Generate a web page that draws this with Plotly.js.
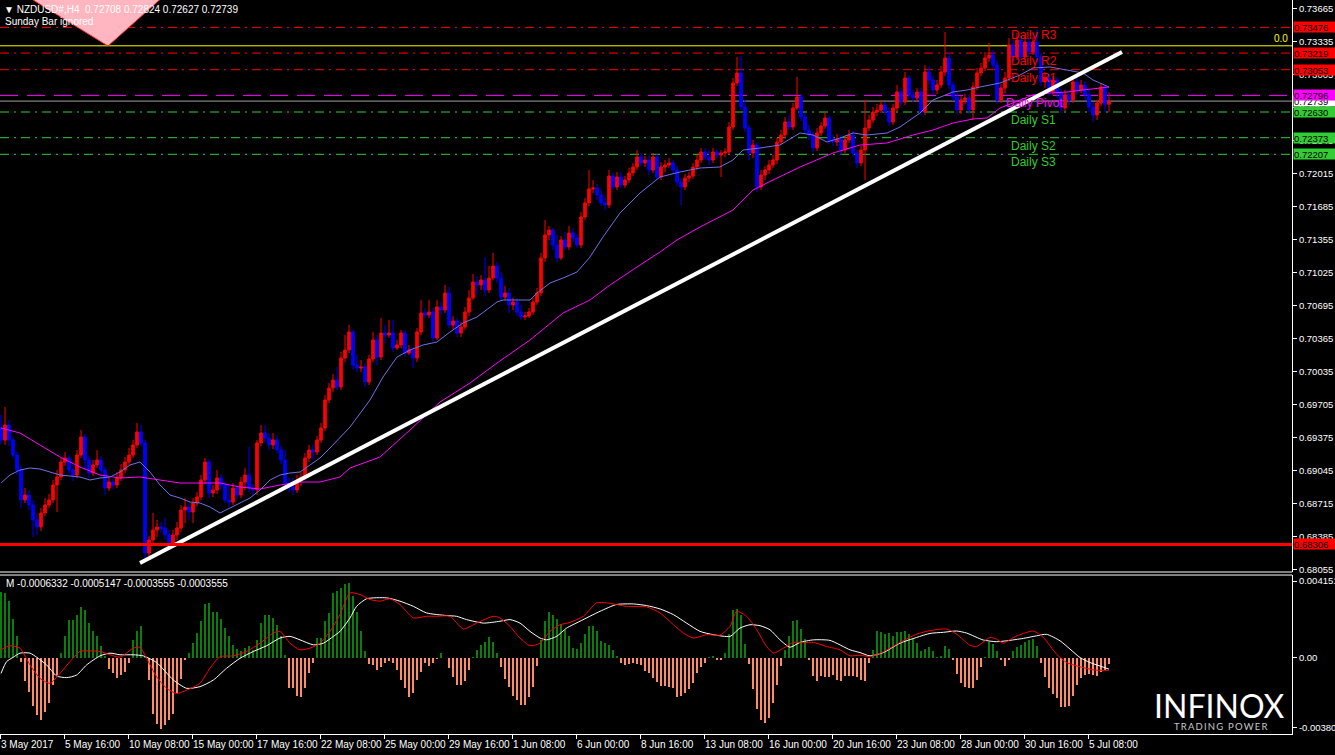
<!DOCTYPE html>
<html><head><meta charset="utf-8">
<script src="https://cdn.plot.ly/plotly-3.0.1.min.js"></script>
<style>html,body{margin:0;padding:0;background:#000;}#chart{width:1335px;height:755px;}</style>
</head><body><div id="chart"></div>
<script>
// ---------- NZDUSD H4 price data ----------
const firstOpen = 0.6947;
const close = [0.6935,
0.6950,0.6935,0.6920,0.6905,0.6875,0.6880,0.6870,0.6855,0.6848,0.6862,
0.6870,0.6875,0.6890,0.6898,0.6913,0.6917,0.6905,0.6900,0.6920,0.6938,
0.6915,0.6902,0.6910,0.6915,0.6905,0.6887,0.6893,0.6890,0.6897,0.6905,
0.6913,0.6920,0.6930,0.6943,0.6932,0.6822,0.6835,0.6845,0.6848,0.6847,
0.6840,0.6832,0.6840,0.6847,0.6865,0.6868,0.6863,0.6872,0.6878,0.6895,
0.6913,0.6882,0.6885,0.6897,0.6890,0.6875,0.6873,0.6887,0.6880,0.6893,
0.6900,0.6887,0.6885,0.6932,0.6942,0.6937,0.6930,0.6935,0.6925,0.6915,
0.6892,0.6888,0.6885,0.6895,0.6898,0.6917,0.6925,0.6923,0.6935,0.6947,
0.6975,0.6987,0.6995,0.6988,0.7017,0.7025,0.7043,0.7010,0.7007,0.7008,
0.6993,0.7016,0.7035,0.7018,0.7042,0.7040,0.7042,0.7027,0.7030,0.7042,
0.7022,0.7025,0.7017,0.7043,0.7062,0.7060,0.7063,0.7037,0.7068,0.7065,
0.7082,0.7050,0.7054,0.7042,0.7048,0.7063,0.7077,0.7093,0.7090,0.7095,
0.7085,0.7097,0.7109,0.7097,0.7078,0.7082,0.7070,0.7073,0.7063,0.7058,
0.7059,0.7063,0.7073,0.7082,0.7117,0.7140,0.7145,0.7130,0.7117,0.7135,
0.7128,0.7142,0.7137,0.7130,0.7158,0.7172,0.7186,0.7187,0.7180,0.7172,
0.7170,0.7199,0.7188,0.7198,0.7190,0.7195,0.7202,0.7208,0.7218,0.7212,
0.7215,0.7205,0.7218,0.7198,0.7208,0.7210,0.7212,0.7205,0.7193,0.7188,
0.7197,0.7199,0.7208,0.7215,0.7223,0.7218,0.7215,0.7223,0.7220,0.7222,
0.7223,0.7248,0.7292,0.7302,0.7268,0.7247,0.7222,0.7230,0.7188,0.7200,
0.7205,0.7210,0.7215,0.7233,0.7240,0.7253,0.7248,0.7267,0.7278,0.7258,
0.7245,0.7240,0.7227,0.7242,0.7249,0.7257,0.7235,0.7233,0.7236,0.7225,
0.7235,0.7240,0.7222,0.7212,0.7225,0.7247,0.7255,0.7263,0.7265,0.7270,
0.7263,0.7253,0.7267,0.7283,0.7273,0.7297,0.7280,0.7277,0.7283,0.7263,
0.7303,0.7295,0.7285,0.7290,0.7303,0.7317,0.7290,0.7278,0.7265,0.7275,
0.7277,0.7265,0.7288,0.7302,0.7307,0.7317,0.7320,0.7310,0.7275,0.7287,
0.7297,0.7330,0.7318,0.7335,0.7318,0.7333,0.7323,0.7333,0.7318,0.7293,
0.7297,0.7283,0.7295,0.7282,0.7267,0.7280,0.7275,0.7293,0.7285,0.7290,
0.7280,0.7268,0.7260,0.7272,0.7288,0.72708,0.72739];
const high = [0.6960,
0.6968,0.6955,0.6938,0.6923,0.6909,0.6887,0.6885,0.6875,0.6861,0.6867,
0.6877,0.6881,0.6895,0.6905,0.6917,0.6923,0.6920,0.6910,0.6925,0.6945,
0.6941,0.6919,0.6915,0.6925,0.6919,0.6908,0.6897,0.6896,0.6903,0.6911,
0.6918,0.6927,0.6935,0.6952,0.6950,0.6935,0.6839,0.6862,0.6855,0.6853,
0.6857,0.6845,0.6845,0.6853,0.6870,0.6877,0.6872,0.6877,0.6883,0.6900,
0.6917,0.6916,0.6890,0.6905,0.6901,0.6893,0.6890,0.6892,0.6890,0.6898,
0.6907,0.6928,0.6891,0.6935,0.6950,0.6950,0.6942,0.6942,0.6940,0.6929,
0.6925,0.6897,0.6897,0.6900,0.6903,0.6922,0.6930,0.6930,0.6939,0.6952,
0.6980,0.6992,0.7001,0.7008,0.7023,0.7040,0.7050,0.7045,0.7020,0.7015,
0.7012,0.7020,0.7043,0.7040,0.7057,0.7050,0.7055,0.7055,0.7035,0.7045,
0.7045,0.7030,0.7028,0.7047,0.7075,0.7067,0.7075,0.7067,0.7075,0.7073,
0.7090,0.7088,0.7059,0.7057,0.7053,0.7068,0.7085,0.7101,0.7099,0.7100,
0.7118,0.7109,0.7122,0.7113,0.7103,0.7089,0.7087,0.7077,0.7077,0.7070,
0.7063,0.7067,0.7077,0.7087,0.7122,0.7155,0.7149,0.7147,0.7140,0.7139,
0.7143,0.7149,0.7147,0.7141,0.7163,0.7177,0.7205,0.7195,0.7191,0.7185,
0.7179,0.7205,0.7202,0.7203,0.7203,0.7199,0.7207,0.7212,0.7225,0.7222,
0.7219,0.7220,0.7222,0.7221,0.7213,0.7215,0.7217,0.7215,0.7209,0.7197,
0.7201,0.7203,0.7212,0.7220,0.7227,0.7227,0.7225,0.7227,0.7226,0.7225,
0.7227,0.7253,0.7297,0.7318,0.7319,0.7275,0.7250,0.7235,0.7233,0.7205,
0.7209,0.7215,0.7220,0.7237,0.7245,0.7258,0.7260,0.7272,0.7298,0.7281,
0.7262,0.7250,0.7243,0.7247,0.7253,0.7263,0.7260,0.7240,0.7241,0.7240,
0.7239,0.7245,0.7244,0.7225,0.7229,0.7275,0.7260,0.7268,0.7271,0.7275,
0.7273,0.7267,0.7271,0.7290,0.7287,0.7303,0.7300,0.7285,0.7287,0.7287,
0.7310,0.7309,0.7299,0.7295,0.7309,0.7343,0.7323,0.7293,0.7282,0.7279,
0.7281,0.7281,0.7293,0.7307,0.7312,0.7323,0.7332,0.7325,0.7314,0.7291,
0.7303,0.7337,0.7335,0.7342,0.7339,0.7339,0.7337,0.7338,0.7345,0.7322,
0.7303,0.7301,0.7299,0.7298,0.7286,0.7285,0.7284,0.7298,0.7299,0.7295,
0.7294,0.7285,0.7273,0.7275,0.7291,0.7290,0.72824];
const low = [0.6931,
0.6930,0.6929,0.6917,0.6900,0.6867,0.6872,0.6865,0.6838,0.6840,0.6844,
0.6859,0.6867,0.6872,0.6863,0.6895,0.6909,0.6901,0.6894,0.6897,0.6917,
0.6905,0.6897,0.6899,0.6907,0.6901,0.6880,0.6884,0.6886,0.6887,0.6894,
0.6902,0.6910,0.6917,0.6927,0.6929,0.6817,0.6819,0.6830,0.6838,0.6842,
0.6835,0.6828,0.6827,0.6835,0.6843,0.6852,0.6855,0.6852,0.6869,0.6875,
0.6891,0.6877,0.6878,0.6881,0.6886,0.6872,0.6868,0.6870,0.6876,0.6877,
0.6885,0.6883,0.6880,0.6880,0.6929,0.6933,0.6925,0.6926,0.6922,0.6911,
0.6888,0.6883,0.6880,0.6882,0.6889,0.6895,0.6913,0.6915,0.6920,0.6932,
0.6944,0.6972,0.6983,0.6985,0.6985,0.7013,0.7022,0.7005,0.7003,0.7003,
0.6988,0.6990,0.7013,0.7010,0.7015,0.7032,0.7037,0.7023,0.7025,0.7027,
0.7018,0.7020,0.7007,0.7013,0.7040,0.7057,0.7057,0.7034,0.7035,0.7060,
0.7062,0.7047,0.7046,0.7038,0.7038,0.7045,0.7059,0.7075,0.7080,0.7085,
0.7079,0.7082,0.7095,0.7092,0.7075,0.7075,0.7062,0.7065,0.7059,0.7055,
0.7055,0.7057,0.7060,0.7070,0.7079,0.7113,0.7135,0.7125,0.7113,0.7115,
0.7125,0.7125,0.7133,0.7127,0.7127,0.7155,0.7169,0.7182,0.7175,0.7169,
0.7165,0.7167,0.7185,0.7185,0.7187,0.7187,0.7192,0.7199,0.7205,0.7209,
0.7208,0.7200,0.7202,0.7195,0.7195,0.7203,0.7207,0.7202,0.7189,0.7170,
0.7185,0.7193,0.7196,0.7205,0.7212,0.7215,0.7210,0.7212,0.7217,0.7198,
0.7218,0.7220,0.7245,0.7289,0.7265,0.7243,0.7215,0.7217,0.7183,0.7185,
0.7195,0.7201,0.7207,0.7211,0.7230,0.7237,0.7245,0.7245,0.7265,0.7254,
0.7241,0.7235,0.7223,0.7224,0.7239,0.7246,0.7231,0.7229,0.7229,0.7220,
0.7222,0.7232,0.7218,0.7207,0.7209,0.7195,0.7244,0.7252,0.7259,0.7262,
0.7260,0.7249,0.7250,0.7264,0.7269,0.7270,0.7276,0.7273,0.7273,0.7259,
0.7260,0.7291,0.7281,0.7281,0.7287,0.7299,0.7286,0.7274,0.7261,0.7261,
0.7271,0.7261,0.7255,0.7285,0.7299,0.7304,0.7313,0.7306,0.7271,0.7272,
0.7282,0.7294,0.7314,0.7315,0.7313,0.7315,0.7319,0.7320,0.7313,0.7289,
0.7287,0.7279,0.7280,0.7277,0.7262,0.7264,0.7270,0.7272,0.7280,0.7282,
0.7275,0.7263,0.7253,0.7255,0.7269,0.7263,0.72627];

// Moving averages (bar position, price)
const maFastX = [0,2.25,4.75,7.25,9.75,12.25,14.75,17.25,19.75,22.25,24.75,27.25,29.75,32.25,34.75,37.25,39.75,42.25,44.75,47.25,49.75,52.25,54.75,57.25,59.75,62.25,64.75,67.25,69.75,72.25,74.75,77.25,79.75,82.25,87.25,92.25,95.5,99,102.25,105.5,109,112.25,115.5,119,122.25,124,125.5,129,132.25,134,137.25,140.5,144,147.25,150.5,154.75,159.75,164.75,169.75,174.75,179.75,183,185.5,189.75,194.75,199.75,203,206.5,209.75,213,216.5,221.5,224.75,229.75,233,238,241.5,244.75,249.75,254.75,258,262.25,266.5,270.5,273,274.75,277];
const maFastY = [0.6892,0.6900,0.6905,0.6907,0.6906,0.6903,0.6900,0.6899,0.6898,0.6895,0.6897,0.6898,0.6903,0.6910,0.6913,0.6903,0.6890,0.6880,0.6877,0.6873,0.6872,0.6868,0.6862,0.6867,0.6872,0.6877,0.6885,0.6895,0.6900,0.6902,0.6903,0.6910,0.6917,0.6927,0.6948,0.6975,0.6998,0.7018,0.7025,0.7030,0.7033,0.7043,0.7052,0.7058,0.7068,0.7073,0.7075,0.7075,0.7075,0.7082,0.7092,0.7097,0.7103,0.7118,0.7138,0.7162,0.7182,0.7198,0.7203,0.7207,0.7208,0.7215,0.7225,0.7227,0.7230,0.7242,0.7240,0.7233,0.7237,0.7242,0.7240,0.7242,0.7248,0.7262,0.7275,0.7283,0.7285,0.7288,0.7292,0.7300,0.7307,0.7308,0.7305,0.7302,0.7295,0.7292,0.7288];
const maSlowX = [0,4.75,9.75,14.75,19.75,24.75,29.75,34.75,39.75,44.75,49.75,54.75,59.75,64.75,69.75,74.75,79.75,84.75,87.25,94.75,102.25,109.75,117.25,124,132.25,140.5,147.25,152.25,159.75,164.75,169,174.75,183,188,193,199.75,208,214.75,221.5,228,233,238,243,246.5,249.75,254.75,258,262.25,266.5,270.5,274.75,277];
const maSlowY = [0.6947,0.6942,0.6930,0.6918,0.6908,0.6900,0.6897,0.6898,0.6895,0.6892,0.6892,0.6892,0.6888,0.6886,0.6890,0.6893,0.6893,0.6898,0.6907,0.6918,0.6945,0.6973,0.6992,0.7012,0.7035,0.7062,0.7075,0.7090,0.7110,0.7123,0.7135,0.7148,0.7165,0.7185,0.7195,0.7208,0.7222,0.7230,0.7232,0.7240,0.7245,0.7252,0.7256,0.7257,0.7267,0.7275,0.7280,0.7282,0.7283,0.7285,0.7287,0.7288];

// MACD histogram (one value per bar) and lines
const macdHist = [
0.00355,0.00351,0.00306,0.00209,0.00115,-0.00022,-0.00127,-0.00186,-0.00264,-0.00313,
-0.00337,-0.00295,-0.00246,-0.00149,-0.00095,0.00027,0.00118,0.00202,0.00206,0.00233,
0.00273,0.00257,0.00187,0.00142,0.00115,0.00060,0.00009,-0.00064,-0.00086,-0.00113,
-0.00095,-0.00076,-0.00027,0.00096,0.00146,0.00169,0.00009,-0.00122,-0.00304,-0.00359,
-0.00386,-0.00368,-0.00340,-0.00308,-0.00195,-0.00118,-0.00013,0.00024,0.00078,0.00133,
0.00200,0.00291,0.00297,0.00246,0.00246,0.00209,0.00160,0.00115,0.00069,0.00046,
0.00036,0.00051,0.00060,0.00042,0.00096,0.00187,0.00233,0.00233,0.00215,0.00178,
0.00115,0.00015,-0.00167,-0.00167,-0.00209,-0.00213,-0.00167,-0.00086,-0.00027,0.00106,
0.00106,0.00197,0.00242,0.00348,0.00360,0.00379,0.00397,0.00406,0.00333,0.00246,
0.00142,0.00033,-0.00036,-0.00040,-0.00067,-0.00049,-0.00027,-0.00018,-0.00031,-0.00067,
-0.00122,-0.00167,-0.00213,-0.00191,-0.00122,-0.00076,-0.00031,-0.00046,-0.00027,-0.00009,
0.00027,-0.00004,-0.00055,-0.00104,-0.00149,-0.00149,-0.00126,-0.00067,0.00005,0.00042,
0.00069,0.00082,0.00109,0.00082,0.00024,-0.00049,-0.00116,-0.00158,-0.00209,-0.00231,
-0.00258,-0.00255,-0.00213,-0.00162,-0.00044,0.00096,0.00197,0.00246,0.00233,0.00209,
0.00182,0.00151,0.00115,0.00051,0.00047,0.00078,0.00129,0.00173,0.00173,0.00142,
0.00091,0.00078,0.00069,0.00042,0.00009,-0.00031,-0.00040,-0.00036,-0.00027,-0.00036,
-0.00040,-0.00073,-0.00086,-0.00109,-0.00131,-0.00155,-0.00155,-0.00158,-0.00167,-0.00213,
-0.00209,-0.00195,-0.00173,-0.00137,-0.00082,-0.00053,-0.00027,0.00005,0.00011,-0.00013,
-0.00013,0.00027,0.00129,0.00257,0.00264,0.00233,0.00075,-0.00035,-0.00171,-0.00277,
-0.00337,-0.00355,-0.00328,-0.00246,-0.00149,-0.00046,0.00042,0.00115,0.00197,0.00202,
0.00155,0.00100,-0.00016,-0.00100,-0.00126,-0.00100,-0.00104,-0.00104,-0.00095,-0.00122,
-0.00126,-0.00100,-0.00100,
-0.00100,-0.00104,-0.00122,-0.00127,-0.00027,
0.00042,0.00142,0.00138,0.00127,0.00133,0.00115,0.00137,0.00137,0.00142,0.00129,
0.00102,0.00078,0.00036,0.00046,0.00055,0.00033,0.00005,0.00009,0.00064,0.00047,
-0.00016,-0.00089,-0.00140,-0.00162,-0.00167,-0.00167,-0.00122,-0.00053,0.00005,0.00084,
0.00073,0.00038,-0.00013,-0.00044,-0.00013,0.00033,0.00055,0.00069,0.00082,0.00093,
0.00100,0.00060,-0.00027,-0.00104,-0.00167,-0.00198,-0.00222,-0.00268,-0.00268,-0.00264,
-0.00209,-0.00149,-0.00113,-0.00095,-0.00091,-0.00095,-0.00100,-0.00076,-0.00067,-0.0003555];
const macdMainX = [0,1.4,3.1,4.75,7.25,8.9,11.4,13.9,16.4,18.9,21.4,24.75,27.25,29.75,33.1,35.6,38.9,43.1,46.4,49.75,53.1,56.4,59.75,63.1,66.4,69.75,72.25,74.75,78.1,80.6,83.1,84.75,87.25,88.9,91.4,96.4,99.75,103.1,106.4,111.4,113.9,116.4,120.6,124.75,127.25,129.75,132.25,134.75,136.4,138.9,141.4,144.75,149.75,153.9,158.1,161.4,164.75,168.1,171.4,174.75,178.1,182.25,184.75,187.25,189.75,192.25,194.75,197.25,199.75,203.1,207.25,212.25,214.75,217.25,220.6,224.75,228.9,232.25,235.6,238.9,241.4,245.6,248.9,251.4,255.6,258.9,261.4,264.75,267.25,269.75,272.25,274.75,277];
const macdMainY = [-0.00086,-0.00022,0.00002,0.00024,0.00024,0.00002,-0.00040,-0.00100,-0.00109,-0.00095,-0.00040,0.00009,0.00024,0.00015,0.00015,0.00009,-0.00027,-0.00122,-0.00167,-0.00158,-0.00122,-0.00058,-0.00004,0.00033,0.00064,0.00106,0.00115,0.00096,0.00069,0.00078,0.00115,0.00142,0.00215,0.00278,0.00319,0.00324,0.00306,0.00278,0.00242,0.00228,0.00224,0.00206,0.00187,0.00197,0.00206,0.00187,0.00142,0.00106,0.00096,0.00115,0.00160,0.00197,0.00251,0.00288,0.00291,0.00282,0.00264,0.00233,0.00187,0.00142,0.00124,0.00115,0.00160,0.00178,0.00173,0.00151,0.00096,0.00056,0.00082,0.00096,0.00093,0.00042,0.00027,0.00009,0.00027,0.00078,0.00109,0.00131,0.00137,0.00144,0.00133,0.00095,0.00086,0.00091,0.00104,0.00118,0.00126,0.00091,0.00046,0,-0.00027,-0.00046,-0.00063];
const macdSignalX = [0,2.25,4.75,7.25,9.75,12.25,14.75,17.25,19.75,22.25,24.75,27.25,29.75,33.1,34.75,36.4,38.9,41.4,43.9,46.4,49.75,52.25,54.75,58.1,61.4,64.75,68.1,69.75,72.25,74.75,77.25,79.75,82.25,84.75,87.25,89.75,92.25,94.75,97.25,99.75,103.1,106.4,108.9,112.25,115.6,118.9,123.1,124.75,127.25,129.75,132.25,134.75,137.25,139.75,142.25,145.6,148.9,151.4,156.4,161.4,164.75,168.1,170.6,173.1,176.4,179.75,182.25,183.9,186.4,188.9,191.4,193.1,195.6,198.1,200.6,203.1,206.4,209.75,212.25,214.75,217.25,220.6,224.75,228.9,232.25,236.4,238.9,242.25,243.9,247.25,248.9,250.6,253.1,255.6,258.1,260.6,263.9,266.4,270.6,273.9,277];
const macdSignalY = [0.00042,0.00064,0.00051,-0.00040,-0.00113,-0.00140,-0.00086,-0.00022,0.00033,0.00036,0.00033,0.00015,0.00002,0.00051,0.00056,-0.00004,-0.00104,-0.00167,-0.00195,-0.00177,-0.00140,-0.00058,0.00005,0.00009,0.00033,0.00078,0.00133,0.00142,0.00078,0.00042,0.00051,0.00078,0.00142,0.00233,0.00351,0.00342,0.00315,0.00306,0.00319,0.00288,0.00215,0.00224,0.00224,0.00224,0.00155,0.00187,0.00224,0.00215,0.00169,0.00106,0.00064,0.00078,0.00142,0.00178,0.00191,0.00224,0.00297,0.00297,0.00278,0.00275,0.00242,0.00178,0.00133,0.00106,0.00124,0.00122,0.00169,0.00251,0.00224,0.00151,0.00060,0.00024,0.00051,0.00082,0.00082,0.00082,0.00060,0.00042,0.00009,0.00013,0.00005,0.00031,0.00082,0.00127,0.00146,0.00155,0.00127,0.00067,0.00060,0.00109,0.00100,0.00078,0.00109,0.00131,0.00144,0.00109,0.00018,-0.00027,-0.00055,-0.00069,-0.00069];

// Levels and objects
const levelNames  = ['Daily R3','Daily R2','Daily R1','Daily Pivot','Daily S1','Daily S2','Daily S3'];
const levelValues = [0.73476, 0.73219, 0.73053, 0.72796, 0.72630, 0.72373, 0.72207];
const fiboLevel = 0.73292;
const bidPrice = 0.72739;
const supportLevel = 0.68306;
const trendX = [34.75, 280.25];
const trendY = [0.6812, 0.7323];
const triX = [6, 41, 26.75];
const triY = [0.7380, 0.7380, 0.7329];

// Axis ticks
const priceTicks = [0.68055,0.68385,0.68715,0.69045,0.69375,0.69705,0.70035,0.70365,0.70695,0.71025,0.71355,0.71685,0.72015,0.72345,0.72675,0.73005,0.73335,0.73665];
const macdTicks = [0.004151, 0, -0.003804];
const macdTickText = ['0.004151','0.00','-0.003804'];
const timeTickBars = [0,16,32,48,64,80,96,112,128,144,160,176,192,208,224,240,256,272];
const timeTickLabels = ['3 May 2017','5 May 16:00','10 May 08:00','15 May 00:00','17 May 16:00','22 May 08:00','25 May 00:00','29 May 16:00','1 Jun 08:00','6 Jun 00:00','8 Jun 16:00','13 Jun 08:00','16 Jun 00:00','20 Jun 16:00','23 Jun 08:00','28 Jun 00:00','30 Jun 16:00','5 Jul 08:00'];

// ---------- build ----------
const FONT = 'Liberation Sans, Arial, sans-serif';
const bars = close.map((_, i) => i);
const open = close.map((c, i) => i === 0 ? firstOpen : close[i - 1]);
const RED = '#FF0000', BLUE = '#0000FF', MAG = '#FF00FF', GRN = '#32CD32';
const levelColors = [RED, RED, RED, MAG, GRN, GRN, GRN];

const data = [
  {type:'candlestick', x:bars, open:open, high:high, low:low, close:close, xaxis:'x', yaxis:'y',
   increasing:{line:{color:RED,width:1}, fillcolor:RED},
   decreasing:{line:{color:BLUE,width:1}, fillcolor:BLUE},
   whiskerwidth:0, hoverinfo:'skip'},
  {type:'scatter', mode:'lines', x:maSlowX, y:maSlowY, xaxis:'x', yaxis:'y', line:{color:MAG,width:1}, hoverinfo:'skip'},
  {type:'scatter', mode:'lines', x:maFastX, y:maFastY, xaxis:'x', yaxis:'y', line:{color:'#6F6FE8',width:1}, hoverinfo:'skip'},
  {type:'scatter', mode:'lines', x:trendX, y:trendY, xaxis:'x', yaxis:'y', line:{color:'#FFFFFF',width:4}, hoverinfo:'skip'},
  {type:'bar', x:bars, y:macdHist, xaxis:'x', yaxis:'y2', width:0.72,
   marker:{color:macdHist.map(v => v >= 0 ? '#0A7D0A' : '#FF8C66'), line:{width:0}}, hoverinfo:'skip'},
  {type:'scatter', mode:'lines', x:macdMainX, y:macdMainY, xaxis:'x', yaxis:'y2', line:{color:'#FFFFFF',width:1,shape:'spline',smoothing:0.6}, hoverinfo:'skip'},
  {type:'scatter', mode:'lines', x:macdSignalX, y:macdSignalY, xaxis:'x', yaxis:'y2', line:{color:'#FF0000',width:1,shape:'spline',smoothing:0.6}, hoverinfo:'skip'}
];

const shapes = [];
// pink triangle object
shapes.push({type:'path', xref:'x', yref:'y', layer:'below',
  path:`M ${triX[0]},${triY[0]} L ${triX[1]},${triY[1]} L ${triX[2]},${triY[2]} Z`,
  fillcolor:'#FFB6C1', line:{color:'#FF3030', width:1}});
levelValues.forEach((v, k) => {
  shapes.push({type:'line', xref:'paper', x0:0, x1:1, yref:'y', y0:v, y1:v, layer:'below',
    line:{color:levelColors[k], width:1, dash: k === 3 ? '18px,9px' : '9px,5px,2px,5px'}});
});
shapes.push({type:'line', xref:'paper', x0:0, x1:1, yref:'y', y0:fiboLevel, y1:fiboLevel, layer:'below', line:{color:'#FFFF00', width:1}});
shapes.push({type:'line', xref:'paper', x0:0, x1:1, yref:'y', y0:bidPrice, y1:bidPrice, layer:'below', line:{color:'#A0A0A0', width:1}});
shapes.push({type:'line', xref:'paper', x0:0, x1:1, yref:'y', y0:supportLevel, y1:supportLevel, layer:'above', line:{color:RED, width:3}});
// panel separators
shapes.push({type:'line', xref:'paper', x0:0, x1:1, yref:'paper', y0:0.2207, y1:0.2207, line:{color:'#FFFFFF', width:1}});
shapes.push({type:'line', xref:'paper', x0:0, x1:1, yref:'paper', y0:0.2166, y1:0.2166, line:{color:'#FFFFFF', width:1}});

const annotations = [];
// header texts
annotations.push({xref:'paper', yref:'paper', x:0, y:1, xanchor:'left', yanchor:'top', xshift:2, yshift:-2, showarrow:false,
  text:'\u25BC NZDUSD#,H4  0.72708 0.72824 0.72627 0.72739', font:{family:FONT, size:10, color:'#FFFFFF'}});
annotations.push({xref:'paper', yref:'paper', x:0, y:1, xanchor:'left', yanchor:'top', xshift:3, yshift:-14, showarrow:false,
  text:'Sunday Bar ignored', font:{family:FONT, size:10, color:'#FFFFFF'}});
annotations.push({xref:'paper', yref:'paper', x:0, y:0.2166, xanchor:'left', yanchor:'top', xshift:4, yshift:-1, showarrow:false,
  text:'M -0.0006332 -0.0005147 -0.0003555 -0.0003555', font:{family:FONT, size:10, color:'#FFFFFF'}});
// daily level labels
levelNames.forEach((n, k) => {
  annotations.push({xref:'x', yref:'y', x: k === 3 ? 250.75 : 252, y:levelValues[k], xanchor:'left', yanchor:'top', yshift:1,
    showarrow:false, text:n, font:{family:FONT, size:12, color:levelColors[k]}});
});
// fibo label
annotations.push({xref:'paper', yref:'y', x:1, y:fiboLevel, xanchor:'right', yanchor:'bottom', xshift:-2, yshift:0,
  showarrow:false, text:'0.0', font:{family:FONT, size:10, color:'#FFFF00'}});
// right price boxes
function priceBox(v, bg) {
  annotations.push({xref:'paper', yref:'y', x:1, y:v, xanchor:'left', yanchor:'middle', xshift:1, showarrow:false,
    text:v.toFixed(5), bgcolor:bg, width:42, height:10, borderpad:0, align:'left',
    font:{family:FONT, size:9.5, color:'#000000'}});
}
priceBox(bidPrice, '#FFFFFF');
levelValues.forEach((v, k) => priceBox(v, levelColors[k]));
priceBox(supportLevel, RED);
// time labels (left aligned at tick)
timeTickBars.forEach((b, k) => {
  annotations.push({xref:'x', yref:'paper', x:b - 0.25, y:0, xanchor:'left', yanchor:'top', yshift:-3, xshift:-1,
    showarrow:false, text:timeTickLabels[k], font:{family:FONT, size:10, color:'#FFFFFF'}});
});
// logo
annotations.push({xref:'paper', yref:'paper', x:0.9435, y:0.0395, xanchor:'center', yanchor:'middle', showarrow:false,
  text:'INFINOX', font:{family:'Lato, Liberation Sans, sans-serif', size:32, color:'#FFFFFF'}});
annotations.push({xref:'paper', yref:'paper', x:0.9443, y:0.0105, xanchor:'center', yanchor:'middle', showarrow:false,
  text:'T\u2009R\u2009A\u2009D\u2009I\u2009N\u2009G\u2009 \u2009P\u2009O\u2009W\u2009E\u2009R', font:{family:'Lato, Liberation Sans, sans-serif', size:9.5, color:'#C8C8C8'}});

const layout = {
  width:1335, height:755,
  paper_bgcolor:'#000000', plot_bgcolor:'#000000',
  margin:{l:0, r:43, t:0, b:21, pad:0},
  showlegend:false,
  boxgap:0.35, boxgroupgap:0, bargap:0,
  xaxis:{domain:[0,1], range:[-0.25,322.75], anchor:'y2', showgrid:false, zeroline:false,
    showline:true, linecolor:'#FFFFFF', linewidth:1, ticks:'outside', ticklen:4, tickcolor:'#FFFFFF',
    tickvals:timeTickBars.map(b => b - 0.25), showticklabels:false, rangeslider:{visible:false}, fixedrange:true},
  yaxis:{domain:[0.2207,1], range:[0.6803,0.7375], side:'right', anchor:'x', showgrid:false, zeroline:false,
    showline:true, linecolor:'#FFFFFF', linewidth:1, ticks:'outside', ticklen:4, tickcolor:'#FFFFFF',
    tickvals:priceTicks, ticktext:priceTicks.map(v => v.toFixed(5)),
    tickfont:{family:FONT, size:9.5, color:'#FFFFFF'}, fixedrange:true},
  yaxis2:{domain:[0,0.2166], range:[-0.00415,0.00448], side:'right', anchor:'x', showgrid:false, zeroline:false,
    showline:true, linecolor:'#FFFFFF', linewidth:1, ticks:'outside', ticklen:4, tickcolor:'#FFFFFF',
    tickvals:macdTicks, ticktext:macdTickText,
    tickfont:{family:FONT, size:9.5, color:'#FFFFFF'}, fixedrange:true},
  shapes:shapes,
  annotations:annotations
};

Plotly.newPlot('chart', data, layout, {staticPlot:true, displayModeBar:false});
</script>
</body></html>
